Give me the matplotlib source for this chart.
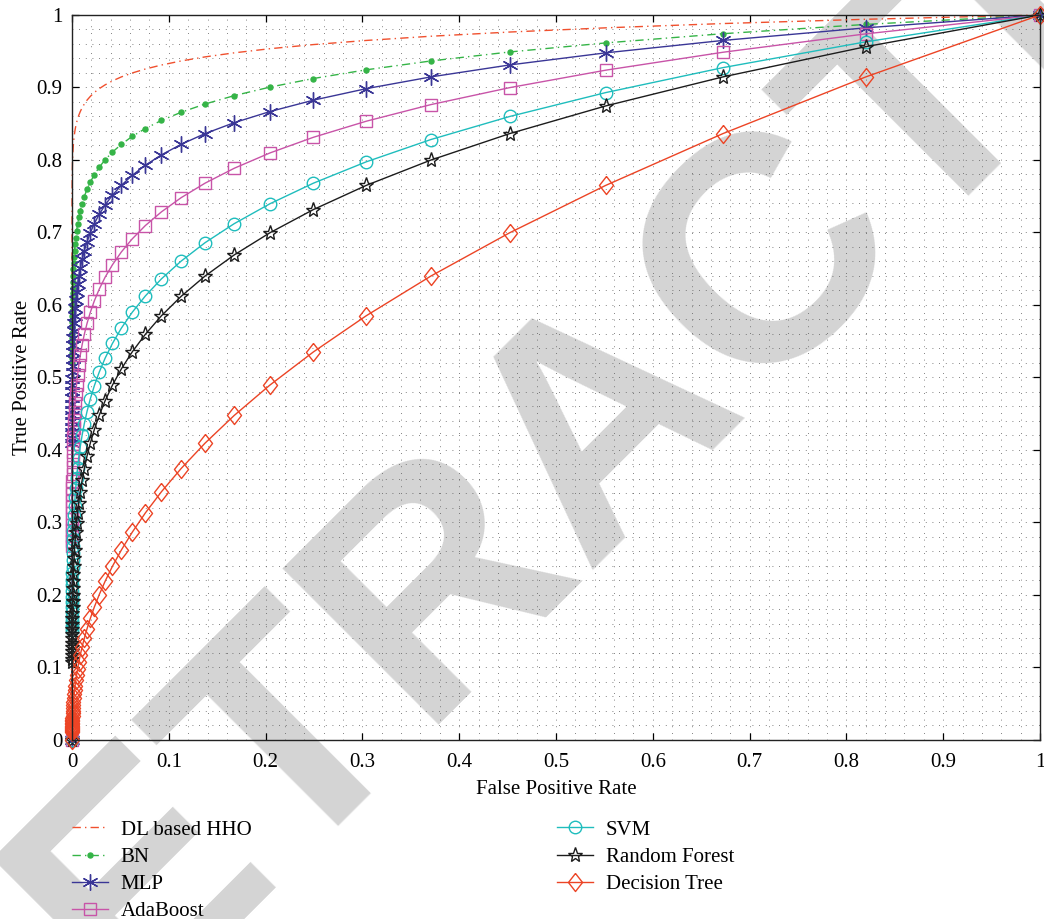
import matplotlib
matplotlib.use("Agg")
import matplotlib.pyplot as plt
from matplotlib.ticker import MultipleLocator

plt.rcParams["font.family"] = ["Liberation Serif", "DejaVu Serif"]

# False positive rate at each operating point (shared by all classifiers)
fpr = [1.0, 0.82, 0.6724, 0.5514, 0.4521, 0.3707, 0.3040, 0.2493, 0.2044, 0.1676,
       0.1374, 0.11271, 0.09242, 0.075784, 0.062143, 0.050957, 0.041785, 0.034264,
       0.028096, 0.023039, 0.018892, 0.015491, 0.012703, 0.010416, 0.008541,
       0.007004, 0.005743, 0.004709, 0.003862, 0.003167, 0.002597, 0.002129,
       0.001746, 0.001432, 0.001174, 0.000963, 0.000789, 0.000647, 0.000531,
       0.000435, 0.000357, 0.000293, 0.000240, 0.000197, 0.000161, 0.000132,
       0.000109, 0.000089, 0.000073, 0.000060, 0.000049, 0.0]

tpr_hho = [1.0, 0.9941, 0.9882, 0.9823, 0.9765, 0.9707, 0.9649, 0.9592, 0.9535, 0.9478,
           0.9422, 0.9366, 0.9310, 0.9255, 0.9200, 0.9146, 0.9091, 0.9037, 0.8984, 0.8931,
           0.8877, 0.8825, 0.8772, 0.8720, 0.8668, 0.8617, 0.8566, 0.8515, 0.8464, 0.8414,
           0.8364, 0.8315, 0.8265, 0.8216, 0.8167, 0.8119, 0.8071, 0.8023, 0.7975, 0.7928,
           0.7881, 0.7834, 0.7787, 0.7741, 0.7695, 0.7650, 0.7605, 0.7559, 0.7514, 0.7470,
           0.7425, 0.0]

tpr_bn = [1.0, 0.9870, 0.9742, 0.9615, 0.9490, 0.9366, 0.9244, 0.9124, 0.9005, 0.8888,
          0.8772, 0.8658, 0.8546, 0.8434, 0.8325, 0.8216, 0.8109, 0.8004, 0.7900, 0.7797,
          0.7695, 0.7595, 0.7496, 0.7399, 0.7302, 0.7207, 0.7114, 0.7021, 0.6930, 0.6840,
          0.6751, 0.6663, 0.6576, 0.6490, 0.6406, 0.6323, 0.6240, 0.6159, 0.6079, 0.6000,
          0.5922, 0.5845, 0.5769, 0.5693, 0.5619, 0.5546, 0.5474, 0.5403, 0.5333, 0.5263,
          0.5195, 0.0]

tpr_mlp = [1.0, 0.9823, 0.9649, 0.9478, 0.9311, 0.9146, 0.8984, 0.8825, 0.8668, 0.8515,
           0.8364, 0.8216, 0.8071, 0.7928, 0.7788, 0.7650, 0.7515, 0.7381, 0.7251, 0.7122,
           0.6996, 0.6872, 0.6751, 0.6631, 0.6514, 0.6399, 0.6285, 0.6174, 0.6065, 0.5957,
           0.5852, 0.5748, 0.5647, 0.5547, 0.5449, 0.5352, 0.5257, 0.5164, 0.5073, 0.4983,
           0.4895, 0.4808, 0.4723, 0.4639, 0.4557, 0.4477, 0.4397, 0.4319, 0.4243, 0.4168,
           0.4094, 0.0]

tpr_ada = [1.0, 0.9740, 0.9486, 0.9239, 0.8998, 0.8764, 0.8535, 0.8313, 0.8097, 0.7886,
           0.7680, 0.7480, 0.7285, 0.7096, 0.6911, 0.6731, 0.6555, 0.6385, 0.6218, 0.6056,
           0.5898, 0.5745, 0.5595, 0.5449, 0.5307, 0.5169, 0.5035, 0.4903, 0.4776, 0.4651,
           0.4530, 0.4412, 0.4297, 0.4185, 0.4076, 0.3970, 0.3867, 0.3766, 0.3668, 0.3572,
           0.3479, 0.3389, 0.3300, 0.3214, 0.3131, 0.3049, 0.2970, 0.2892, 0.2817, 0.2743,
           0.2672, 0.0]

tpr_svm = [1.0, 0.9630, 0.9274, 0.8930, 0.8600, 0.8282, 0.7975, 0.7680, 0.7396, 0.7122,
           0.6859, 0.6605, 0.6361, 0.6125, 0.5898, 0.5680, 0.5470, 0.5268, 0.5073, 0.4885,
           0.4704, 0.4530, 0.4363, 0.4201, 0.4046, 0.3896, 0.3752, 0.3613, 0.3479, 0.3350,
           0.3226, 0.3107, 0.2992, 0.2881, 0.2775, 0.2672, 0.2573, 0.2478, 0.2386, 0.2298,
           0.2213, 0.2131, 0.2052, 0.1976, 0.1903, 0.1833, 0.1765, 0.1700, 0.1637, 0.1576,
           0.1518, 0.0]

tpr_rf = [1.0, 0.9563, 0.9146, 0.8746, 0.8364, 0.7999, 0.7650, 0.7316, 0.6996, 0.6691,
          0.6399, 0.6119, 0.5852, 0.5596, 0.5352, 0.5118, 0.4895, 0.4681, 0.4477, 0.4281,
          0.4094, 0.3915, 0.3744, 0.3581, 0.3425, 0.3275, 0.3132, 0.2995, 0.2864, 0.2739,
          0.2620, 0.2505, 0.2396, 0.2291, 0.2191, 0.2096, 0.2004, 0.1917, 0.1833, 0.1753,
          0.1676, 0.1603, 0.1533, 0.1466, 0.1402, 0.1341, 0.1282, 0.1226, 0.1173, 0.1122,
          0.1073, 0.0]

tpr_dt = [1.0, 0.9146, 0.8364, 0.7650, 0.6996, 0.6399, 0.5852, 0.5352, 0.4895, 0.4477,
          0.4094, 0.3744, 0.3425, 0.3132, 0.2864, 0.2620, 0.2396, 0.2191, 0.2004, 0.1833,
          0.1676, 0.1533, 0.1402, 0.1282, 0.1173, 0.1073, 0.0981, 0.0897, 0.0821, 0.0750,
          0.0686, 0.0628, 0.0574, 0.0525, 0.0480, 0.0439, 0.0402, 0.0367, 0.0336, 0.0307,
          0.0281, 0.0257, 0.0235, 0.0215, 0.0197, 0.0180, 0.0165, 0.0151, 0.0138, 0.0126,
          0.0115, 0.0]

labels = ["DL based HHO", "BN", "MLP", "AdaBoost", "SVM", "Random Forest", "Decision Tree"]
tick_vals = [0, 0.1, 0.2, 0.3, 0.4, 0.5, 0.6, 0.7, 0.8, 0.9, 1.0]
tick_text = ["0", "0.1", "0.2", "0.3", "0.4", "0.5", "0.6", "0.7", "0.8", "0.9", "1"]

dashdot = (0, (6, 3, 1, 3))
tall_diamond = [(0, 1), (0.78, 0), (0, -1), (-0.78, 0), (0, 1)]

styles = [
    dict(color="#F0502E", ls=dashdot, marker="None"),
    dict(color="#35B447", ls=dashdot, marker="o", ms=3.6, mfc="#35B447", mec="#35B447"),
    dict(color="#3A3696", ls="-", marker=(6, 2, 0), ms=11.5, mfc="none", mec="#3A3696"),
    dict(color="#C854A8", ls="-", marker="s", ms=8, mfc="none", mec="#C854A8"),
    dict(color="#1FBDBD", ls="-", marker="o", ms=9, mfc="none", mec="#1FBDBD"),
    dict(color="#1C1C1C", ls="-", marker="*", ms=11, mfc="none", mec="#1C1C1C"),
    dict(color="#EC4425", ls="-", marker=tall_diamond, ms=13, mfc="none", mec="#EC4425"),
]
series = [tpr_hho, tpr_bn, tpr_mlp, tpr_ada, tpr_svm, tpr_rf, tpr_dt]

fig = plt.figure(figsize=(10.44, 9.19), dpi=100)
fig.patch.set_facecolor("white")

# large diagonal stamp behind the plot
fig.text(0.580, 0.543, "RETRACTED", rotation=45, rotation_mode="anchor",
         ha="center", va="center", fontsize=231, fontweight="bold",
         family="Liberation Sans", color="#d4d4d4", zorder=0)

ax = fig.add_axes([0.06897, 0.19478, 0.92720, 0.78890], zorder=1)
ax.patch.set_alpha(0)

handles = []
for tpr, lab, st in zip(series, labels, styles):
    h, = ax.plot(fpr, tpr, lw=1.0, mew=1.0, clip_on=False, label=lab, **st)
    handles.append(h)

ax.set_xlim(0, 1)
ax.set_ylim(0, 1)
ax.set_xticks(tick_vals)
ax.set_xticklabels(tick_text)
ax.set_yticks(tick_vals)
ax.set_yticklabels(tick_text)
ax.xaxis.set_minor_locator(MultipleLocator(0.02))
ax.yaxis.set_minor_locator(MultipleLocator(0.02))
ax.tick_params(which="major", direction="in", length=5, width=0.9,
               top=True, right=True, labelsize=15)
ax.tick_params(axis="x", which="major", pad=9.5)
ax.tick_params(axis="y", which="major", pad=7)
ax.tick_params(which="minor", length=0)
ax.grid(which="both", color="0.35", linestyle=(0, (1, 7)), linewidth=0.6)
ax.set_axisbelow(True)
for sp in ax.spines.values():
    sp.set_linewidth(1.0)
    sp.set_color("#222222")

ax.set_xlabel("False Positive Rate", fontsize=15, labelpad=5.5)
ax.set_ylabel("True Positive Rate", fontsize=15, labelpad=3)

leg_kw = dict(loc="upper left", bbox_transform=fig.transFigure, frameon=False,
              borderpad=0, borderaxespad=0, handlelength=1.73, handletextpad=0.6,
              labelspacing=0.37, fontsize=15)
leg_top = 1 - 820 / 919
leg1 = ax.legend(handles[:4], labels[:4], bbox_to_anchor=(72 / 1044, leg_top), **leg_kw)
ax.add_artist(leg1)
ax.legend(handles[4:], labels[4:], bbox_to_anchor=(557 / 1044, leg_top), **leg_kw)

fig.savefig("out.png", dpi=100, facecolor="white")
